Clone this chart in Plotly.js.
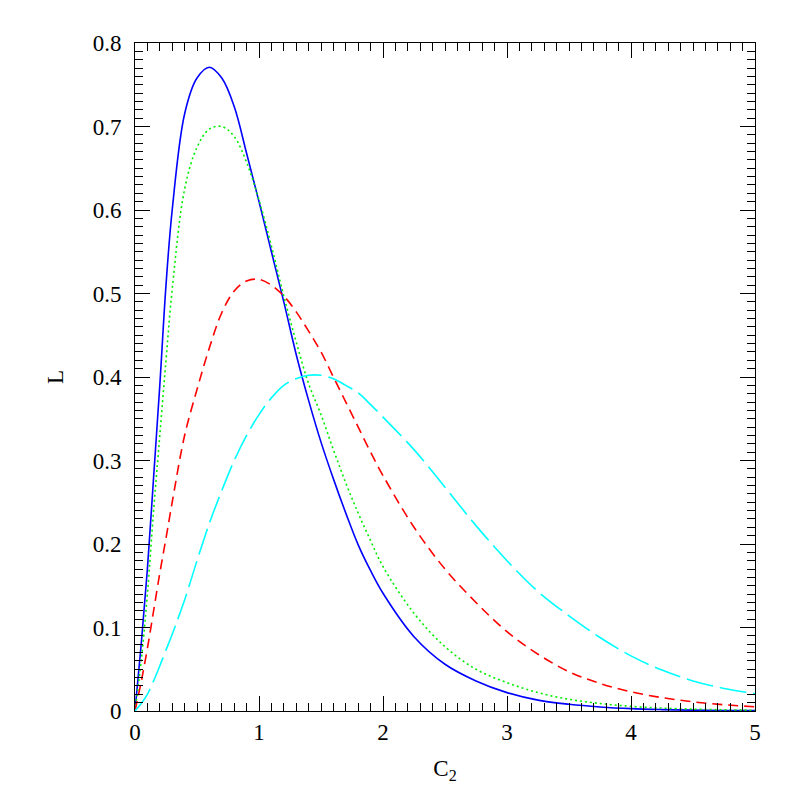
<!DOCTYPE html>
<html>
<head>
<meta charset="utf-8">
<script src="https://cdn.plot.ly/plotly-3.0.1.min.js"></script>
<style>
  body { margin: 0; background: #fff; }
  #chart { width: 797px; height: 797px; }
</style>
</head>
<body>
<div id="chart"></div>
<script>
// C2 grid
const c2 = [0, 0.05, 0.1, 0.15, 0.2, 0.25, 0.3, 0.4, 0.5, 0.6, 0.7, 0.8, 0.9, 1.0,
    1.1, 1.2, 1.3, 1.4, 1.5, 1.6, 1.7, 1.8, 1.9, 2.0,
    2.25, 2.5, 2.75, 3.0, 3.25, 3.5, 3.75, 4.0, 4.25, 4.5, 4.75, 5.0];

const blueL = [0, 0.08, 0.17, 0.28, 0.39, 0.51, 0.6, 0.715, 0.758, 0.771, 0.758, 0.724, 0.668, 0.61,
    0.55, 0.49, 0.427, 0.372, 0.322, 0.278, 0.237, 0.199, 0.168, 0.141,
    0.089, 0.056, 0.036, 0.022, 0.013, 0.008, 0.0048, 0.0028, 0.0017, 0.001, 0.0006, 0.0004];

const greenL = [0, 0.06, 0.14, 0.24, 0.33, 0.42, 0.505, 0.625, 0.675, 0.697, 0.70, 0.688, 0.657, 0.612,
    0.557, 0.497, 0.442, 0.392, 0.355, 0.313, 0.273, 0.237, 0.204, 0.173,
    0.117, 0.077, 0.05, 0.034, 0.022, 0.014, 0.009, 0.0055, 0.0035, 0.0022, 0.0014, 0.0009];

const redL = [0, 0.035, 0.075, 0.12, 0.165, 0.207, 0.25, 0.33, 0.385, 0.435, 0.477, 0.503, 0.515, 0.517,
    0.51, 0.497, 0.478, 0.455, 0.43, 0.40, 0.37, 0.34, 0.31, 0.282,
    0.22, 0.17, 0.13, 0.095, 0.068, 0.047, 0.033, 0.023, 0.016, 0.011, 0.0075, 0.005];

const cyanL = [0, 0.009, 0.02, 0.036, 0.054, 0.073, 0.092, 0.133, 0.18, 0.225, 0.264, 0.30, 0.33, 0.355,
    0.375, 0.39, 0.398, 0.402, 0.402, 0.398, 0.39, 0.381, 0.367, 0.352,
    0.313, 0.268, 0.222, 0.18, 0.143, 0.114, 0.088, 0.066, 0.049, 0.036, 0.027, 0.021];

const traces = [
    { y: blueL, color: '#0000ff', dash: 'solid' },
    { y: greenL, color: '#00ee00', dash: '2px,3px' },
    { y: redL, color: '#ff0000', dash: '10px,6px' },
    { y: cyanL, color: '#00ffff', dash: '27px,7px' }
].map(s => ({
    x: c2,
    y: s.y,
    type: 'scatter',
    mode: 'lines',
    line: { color: s.color, width: 1.6, dash: s.dash, shape: 'spline', smoothing: 1 },
    hoverinfo: 'skip'
}));

const axisFont = { family: '"Liberation Serif", "DejaVu Serif", serif', size: 23, color: '#000' };

const layout = {
    width: 797,
    height: 797,
    margin: { l: 135, r: 42, t: 43, b: 86 },
    paper_bgcolor: '#fff',
    plot_bgcolor: '#fff',
    showlegend: false,
    font: axisFont,
    xaxis: {
        range: [0, 5],
        dtick: 1,
        ticks: 'inside',
        ticklen: 15,
        tickcolor: '#000',
        tickwidth: 1,
        minor: { ticks: 'inside', dtick: 0.1, ticklen: 8, tickcolor: '#000', tickwidth: 1 },
        showline: true,
        linecolor: '#000',
        linewidth: 1,
        mirror: 'allticks',
        showgrid: false,
        zeroline: false,
        tickfont: axisFont,
        title: { text: 'C<sub>2</sub>', font: axisFont, standoff: 16 }
    },
    yaxis: {
        range: [0, 0.8],
        dtick: 0.1,
        ticks: 'inside',
        ticklen: 15,
        tickcolor: '#000',
        tickwidth: 1,
        ticklabelstandoff: 8,
        minor: { ticks: 'inside', dtick: 0.01, ticklen: 8, tickcolor: '#000', tickwidth: 1 },
        showline: true,
        linecolor: '#000',
        linewidth: 1,
        mirror: 'allticks',
        showgrid: false,
        zeroline: false,
        tickfont: axisFont,
        title: { text: 'L', font: axisFont, standoff: 22 }
    }
};

Plotly.newPlot('chart', traces, layout, { displayModeBar: false, staticPlot: true });
</script>
</body>
</html>
